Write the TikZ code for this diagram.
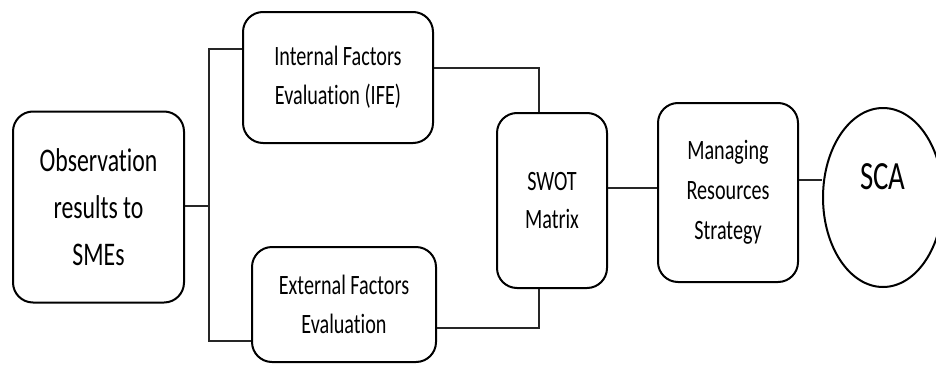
\documentclass[tikz,border=0pt]{standalone}
\usepackage{fontspec}
\usetikzlibrary{shapes.geometric}
\newfontfamily\lbl[FakeStretch=0.72, Ligatures=NoCommon]{Carlito}
\tikzset{
  box/.style={draw=black, line width=2pt, rounded corners=20pt, inner sep=0pt,
              align=center, text=black},
  wire/.style={draw=black!85, line width=1.3pt},
}
\begin{document}
\begin{tikzpicture}[x=1pt, y=-1pt]
\useasboundingbox (0,0) rectangle (936,364);
\clip (0,0) rectangle (936,364);

% process boxes
\node[box, minimum width=171pt, minimum height=191pt,
      font={\lbl\fontsize{33}{47}\selectfont}] (obs) at (98.5,207)
      {Observation\\results to\\SMEs};
\node[box, minimum width=190pt, minimum height=131pt,
      font={\lbl\fontsize{28}{39}\selectfont}] (ife) at (338,77.5)
      {Internal Factors\\Evaluation (IFE)};
\node[box, minimum width=184pt, minimum height=115pt,
      font={\lbl\fontsize{28}{39}\selectfont}] (efe) at (344,304.5)
      {External Factors\\Evaluation};
\node[box, minimum width=110pt, minimum height=175pt,
      font={\lbl\fontsize{28}{38}\selectfont}] (swot) at (552,200.5)
      {SWOT\\Matrix};
\node[box, minimum width=140pt, minimum height=179pt,
      font={\lbl\fontsize{28}{40}\selectfont}] (mrs) at (728,192.5)
      {Managing\\Resources\\Strategy};
\node[ellipse, draw=black, line width=2pt, minimum width=120pt,
      minimum height=179pt, inner sep=0pt] (sca) at (883,197.5) {};
\node[font={\lbl\fontsize{40}{48}\selectfont}, text=black, inner sep=0pt]
      (scatext) at (883,177) {SCA};

% branch points
\coordinate (jm) at (209,206);
\coordinate (jt) at (209,49);
\coordinate (jb) at (209,341);
\coordinate (ct) at (539,68);
\coordinate (cb) at (539,328);
\coordinate (m1) at (0,188);
\coordinate (m2) at (0,180);

% connectors
\draw[wire] (obs.east |- jm) -- (jm);
\draw[wire] (jt -| ife.west) -- (jt) -- (jb) -- (jb -| efe.west);
\draw[wire] (ct -| ife.east) -- (ct) -- (ct |- swot.north);
\draw[wire] (cb -| efe.east) -- (cb) -- (cb |- swot.south);
\draw[wire] (m1 -| swot.east) -- (m1 -| mrs.west);
\draw[wire] (m2 -| mrs.east) -- (m2 -| sca.west);
\end{tikzpicture}
\end{document}
